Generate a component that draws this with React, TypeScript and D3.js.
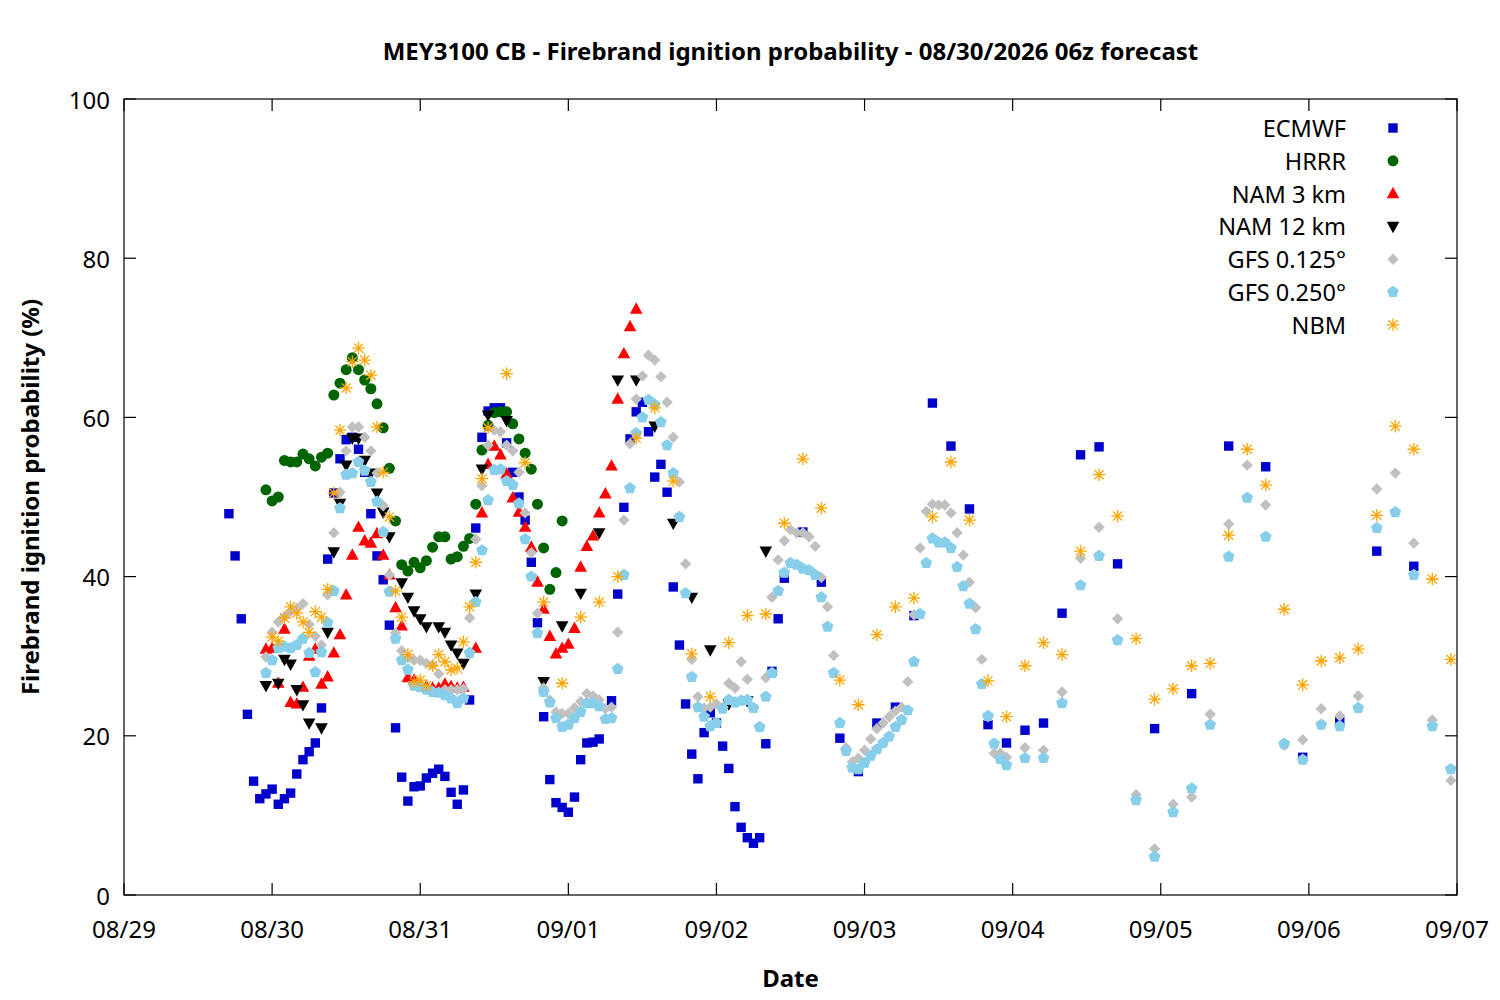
import React, { useEffect } from 'react'
import * as d3 from 'd3'

// Hours since 08/29 00z, value in %
const dayLabels = ['08/29', '08/30', '08/31', '09/01', '09/02', '09/03', '09/04', '09/05', '09/06', '09/07']
const yTicks = [0, 20, 40, 60, 80, 100]

const ecmwf: [number, number][] = [
  [17, 47.9], [18, 42.6], [19, 34.7], [20, 22.7], [21, 14.3], [22, 12.1], [23, 12.7], [24, 13.3], [25, 11.4],
  [26, 12.1], [27, 12.8], [28, 15.2], [29, 17.0], [30, 18.0], [31, 19.1], [32, 23.5], [33, 42.2], [34, 50.5],
  [35, 54.8], [36, 57.2], [37, 57.5], [38, 56.0], [39, 53.1], [40, 47.9], [41, 42.6], [42, 39.6], [43, 33.9],
  [44, 21.0], [45, 14.8], [46, 11.8], [47, 13.6], [48, 13.7], [49, 14.7], [50, 15.3], [51, 15.8], [52, 14.9],
  [53, 12.9], [54, 11.4], [55, 13.2], [56, 24.5], [57, 46.1], [58, 57.5], [59, 60.8], [60, 61.2], [61, 61.2],
  [62, 56.8], [63, 53.1], [64, 50.0], [65, 47.1], [66, 41.8], [67, 34.2], [68, 22.4], [69, 14.5], [70, 11.6],
  [71, 11.0], [72, 10.4], [73, 12.3], [74, 17.0], [75, 19.1], [76, 19.2], [77, 19.6], [79, 24.4], [80, 37.8],
  [81, 48.7], [82, 57.3], [83, 60.7], [84, 61.9], [85, 58.2], [86, 52.5], [87, 54.1], [88, 50.6], [89, 38.7],
  [90, 31.4], [91, 24.0], [92, 17.7], [93, 14.6], [94, 20.4], [95, 22.9], [96, 21.6], [97, 18.7], [98, 15.9],
  [99, 11.1], [100, 8.5], [101, 7.2], [102, 6.5], [103, 7.2], [104, 19.0], [105, 28.1], [106, 34.7], [107, 39.8],
  [110, 45.6], [113, 39.3], [116, 19.7], [119, 15.5], [122, 21.6], [125, 23.6], [128, 35.1], [131, 61.8],
  [134, 56.4], [137, 48.5], [140, 21.4], [143, 19.1], [146, 20.7], [149, 21.6], [152, 35.4], [155, 55.3],
  [158, 56.3], [161, 41.6], [167, 20.9], [173, 25.3], [179, 56.4], [185, 53.8], [191, 17.3], [197, 21.9],
  [203, 43.2], [209, 41.3],
]

const hrrr: [number, number][] = [
  [23, 50.9], [24, 49.5], [25, 50.0], [26, 54.6], [27, 54.4], [28, 54.4], [29, 55.4], [30, 54.8], [31, 53.9],
  [32, 55.0], [33, 55.5], [34, 62.8], [35, 64.3], [36, 66.0], [37, 67.5], [38, 66.0], [39, 64.7], [40, 63.6],
  [41, 61.7], [42, 58.7], [43, 53.6], [44, 47.0], [45, 41.5], [46, 40.7], [47, 41.8], [48, 41.1], [49, 42.0],
  [50, 43.7], [51, 45.0], [52, 45.0], [53, 42.2], [54, 42.5], [55, 43.8], [56, 44.8], [57, 49.1], [58, 55.9],
  [59, 59.0], [60, 60.6], [61, 60.7], [62, 60.7], [63, 59.2], [64, 57.3], [65, 55.5], [66, 53.5], [67, 49.1],
  [68, 43.6], [69, 38.4], [70, 40.5], [71, 47.0],
]

const nam3: [number, number][] = [
  [23, 30.9], [24, 31.0], [25, 26.6], [26, 33.4], [27, 24.2], [28, 24.0], [29, 26.1], [30, 30.0], [31, 30.9],
  [32, 26.5], [33, 27.4], [34, 30.4], [35, 32.7], [36, 37.7], [37, 42.7], [38, 46.2], [39, 44.5], [40, 44.2],
  [41, 45.4], [42, 42.7], [43, 40.2], [44, 36.1], [45, 33.8], [46, 27.3], [47, 27.0], [48, 26.5], [49, 26.2],
  [50, 26.0], [51, 26.0], [52, 26.5], [53, 26.2], [54, 26.0], [55, 26.1], [57, 31.0], [58, 48.0], [59, 54.1],
  [60, 56.4], [61, 55.3], [62, 52.9], [63, 49.9], [64, 48.1], [65, 46.2], [66, 43.7], [67, 39.3], [68, 35.9],
  [69, 32.5], [70, 30.3], [71, 31.0], [72, 31.5], [73, 33.5], [74, 41.2], [75, 43.8], [76, 45.1], [77, 48.0],
  [78, 50.4], [79, 53.9], [80, 62.3], [81, 68.0], [82, 71.4], [83, 73.6],
]

const nam12: [number, number][] = [
  [23, 26.3], [25, 26.6], [26, 29.6], [27, 29.0], [28, 25.8], [29, 23.9], [30, 21.6], [32, 21.0], [33, 33.0],
  [34, 43.1], [35, 49.2], [36, 54.0], [37, 57.4], [38, 57.4], [39, 54.6], [40, 53.0], [41, 50.5], [42, 48.1],
  [43, 45.0], [45, 39.2], [46, 37.4], [47, 35.7], [48, 34.7], [49, 33.7], [51, 33.7], [52, 33.0], [53, 31.4],
  [54, 30.4], [55, 29.1], [57, 37.8], [58, 53.5], [59, 60.3], [62, 59.6], [68, 26.8], [71, 33.8], [74, 37.9],
  [77, 45.5], [80, 64.7], [83, 64.7], [86, 58.9], [89, 46.7], [92, 37.4], [95, 30.8], [98, 24.0], [101, 24.4],
  [104, 43.2],
]

const gfs0125: [number, number][] = [
  [23, 29.9], [24, 33.0], [25, 34.3], [26, 35.0], [27, 35.6], [28, 36.0], [29, 36.6], [30, 34.0], [31, 32.5],
  [32, 31.4], [33, 37.7], [34, 45.5], [35, 50.6], [36, 55.8], [37, 58.8], [38, 58.8], [39, 57.5], [40, 55.8],
  [41, 53.0], [42, 48.9], [43, 40.2], [44, 32.9], [45, 30.7], [46, 29.8], [47, 29.5], [48, 29.5], [49, 29.1],
  [50, 28.9], [51, 27.8], [52, 25.8], [53, 25.8], [54, 25.8], [55, 25.9], [56, 34.8], [57, 44.7], [58, 51.4],
  [59, 56.5], [60, 58.4], [61, 58.2], [62, 56.5], [63, 55.8], [64, 53.1], [65, 48.0], [66, 43.0], [67, 35.4],
  [68, 26.0], [69, 24.5], [70, 23.0], [71, 22.8], [72, 22.8], [73, 23.5], [74, 24.3], [75, 25.3], [76, 25.0],
  [77, 24.5], [78, 23.4], [79, 23.6], [80, 33.0], [81, 47.1], [82, 56.7], [83, 62.3], [84, 65.2], [85, 67.8],
  [86, 67.2], [87, 65.1], [88, 61.9], [89, 57.5], [90, 51.9], [91, 41.6], [92, 29.6], [93, 24.9], [94, 23.5],
  [95, 23.6], [96, 24.0], [97, 23.6], [98, 26.6], [99, 26.0], [100, 29.3], [101, 27.1], [102, 23.6], [103, 21.1],
  [104, 27.3], [105, 37.4], [106, 42.1], [107, 44.5], [108, 45.9], [109, 45.5], [110, 45.5], [111, 45.0],
  [112, 43.8], [113, 39.9], [114, 36.2], [115, 30.1], [116, 21.6], [117, 18.5], [118, 16.7], [119, 17.2],
  [120, 18.2], [121, 19.6], [122, 20.9], [123, 21.6], [124, 22.4], [125, 23.1], [126, 23.6], [127, 26.8],
  [128, 35.2], [129, 43.6], [130, 48.2], [131, 49.1], [132, 49.0], [133, 49.0], [134, 48.0], [135, 45.5],
  [136, 42.7], [137, 39.3], [138, 36.1], [139, 29.6], [140, 22.4], [141, 17.8], [142, 17.8], [143, 17.3],
  [146, 18.5], [149, 18.2], [152, 25.5], [155, 42.3], [158, 46.2], [161, 34.7], [164, 12.6], [167, 5.8],
  [170, 11.4], [173, 12.3], [176, 22.7], [179, 46.6], [182, 54.0], [185, 49.0], [188, 18.8], [191, 19.5],
  [194, 23.4], [197, 22.5], [200, 25.0], [203, 51.0], [206, 53.0], [209, 44.2], [212, 22.0], [215, 14.4],
]

const gfs0250: [number, number][] = [
  [23, 27.9], [24, 29.5], [25, 31.0], [26, 31.2], [27, 31.0], [28, 31.4], [29, 32.2], [30, 30.4], [31, 28.0],
  [32, 30.5], [33, 34.2], [34, 38.2], [35, 48.6], [36, 52.8], [37, 53.0], [38, 54.4], [39, 53.3], [40, 51.9],
  [41, 49.4], [42, 45.6], [43, 38.1], [44, 32.2], [45, 29.5], [46, 28.3], [47, 26.3], [48, 26.1], [49, 25.8],
  [50, 25.5], [51, 25.4], [52, 25.1], [53, 24.7], [54, 24.1], [55, 24.7], [56, 30.4], [57, 36.8], [58, 43.3],
  [59, 49.6], [60, 53.4], [61, 53.5], [62, 52.0], [63, 51.5], [64, 49.2], [65, 44.7], [66, 40.0], [67, 32.9],
  [68, 25.5], [69, 24.2], [70, 22.2], [71, 21.1], [72, 21.4], [73, 22.2], [74, 23.0], [75, 24.1], [76, 24.1],
  [77, 23.7], [78, 22.1], [79, 22.2], [80, 28.4], [81, 40.2], [82, 51.1], [83, 58.0], [84, 60.0], [85, 62.2],
  [86, 61.6], [87, 59.4], [88, 56.5], [89, 53.0], [90, 47.5], [91, 37.9], [92, 27.4], [93, 23.6], [94, 22.4],
  [95, 21.2], [96, 21.6], [97, 23.4], [98, 24.5], [99, 24.2], [100, 24.4], [101, 24.5], [102, 23.5], [103, 21.1],
  [104, 24.9], [105, 27.9], [106, 38.2], [107, 40.5], [108, 41.7], [109, 41.5], [110, 41.0], [111, 40.8],
  [112, 40.2], [113, 37.4], [114, 33.7], [115, 27.9], [116, 21.6], [117, 18.1], [118, 16.0], [119, 15.8],
  [120, 16.6], [121, 17.5], [122, 18.3], [123, 19.1], [124, 19.9], [125, 21.1], [126, 22.0], [127, 23.2],
  [128, 29.3], [129, 35.3], [130, 41.7], [131, 44.8], [132, 44.3], [133, 44.3], [134, 43.6], [135, 41.2],
  [136, 38.8], [137, 36.6], [138, 33.4], [139, 26.5], [140, 22.5], [141, 19.0], [142, 17.1], [143, 16.3],
  [146, 17.2], [149, 17.2], [152, 24.1], [155, 38.9], [158, 42.6], [161, 32.0], [164, 11.9], [167, 4.8],
  [170, 10.4], [173, 13.4], [176, 21.4], [179, 42.5], [182, 49.9], [185, 45.0], [188, 19.0], [191, 17.0],
  [194, 21.4], [197, 21.2], [200, 23.5], [203, 46.1], [206, 48.1], [209, 40.2], [212, 21.2], [215, 15.8],
]

const nbm: [number, number][] = [
  [24, 32.4], [25, 31.9], [26, 34.8], [27, 36.2], [28, 35.4], [29, 34.3], [30, 33.0], [31, 35.6], [32, 34.9],
  [33, 38.4], [34, 50.5], [35, 58.4], [36, 63.7], [37, 67.0], [38, 68.7], [39, 67.2], [40, 65.3], [41, 58.8],
  [42, 53.1], [43, 47.5], [44, 38.2], [45, 34.9], [46, 30.2], [47, 26.8], [48, 27.0], [49, 26.3], [50, 28.8],
  [51, 30.2], [52, 29.3], [53, 28.3], [54, 28.5], [55, 31.8], [56, 36.2], [57, 41.8], [58, 52.3], [59, 58.7],
  [62, 65.5], [65, 54.3], [68, 36.8], [71, 26.6], [74, 34.9], [77, 36.8], [80, 40.0], [83, 57.4], [86, 61.2],
  [89, 52.0], [92, 30.3], [95, 24.9], [98, 31.7], [101, 35.1], [104, 35.3], [107, 46.7], [110, 54.8], [113, 48.6],
  [116, 27.0], [119, 23.9], [122, 32.7], [125, 36.2], [128, 37.3], [131, 47.5], [134, 54.4], [137, 47.1],
  [140, 26.9], [143, 22.4], [146, 28.8], [149, 31.7], [152, 30.2], [155, 43.2], [158, 52.8], [161, 47.6],
  [164, 32.2], [167, 24.6], [170, 25.9], [173, 28.8], [176, 29.1], [179, 45.2], [182, 56.0], [185, 51.5],
  [188, 35.9], [191, 26.4], [194, 29.4], [197, 29.8], [200, 30.9], [203, 47.7], [206, 58.9], [209, 56.0],
  [212, 39.7], [215, 29.6],
]

type Shape = 'square' | 'circle' | 'triUp' | 'triDown' | 'diamond' | 'pentagon' | 'star'

const series: { name: string; data: [number, number][]; color: string; shape: Shape }[] = [
  { name: 'ECMWF', data: ecmwf, color: '#0000CC', shape: 'square' },
  { name: 'HRRR', data: hrrr, color: '#006400', shape: 'circle' },
  { name: 'NAM 3 km', data: nam3, color: '#FF0000', shape: 'triUp' },
  { name: 'NAM 12 km', data: nam12, color: '#000000', shape: 'triDown' },
  { name: 'GFS 0.125°', data: gfs0125, color: '#C0C0C0', shape: 'diamond' },
  { name: 'GFS 0.250°', data: gfs0250, color: '#87CEEB', shape: 'pentagon' },
  { name: 'NBM', data: nbm, color: '#FFA500', shape: 'star' },
]

const FONT = '"Noto Sans", "Open Sans", sans-serif'

function Marker({ shape, color, cx, cy }: { shape: Shape; color: string; cx: number; cy: number }) {
  switch (shape) {
    case 'square':
      return <rect x={cx - 4.7} y={cy - 4.7} width={9.4} height={9.4} fill={color} />
    case 'circle':
      return <circle cx={cx} cy={cy} r={5.5} fill={color} />
    case 'triUp':
      return <path d={`M${cx},${cy - 6.8}L${cx + 6.3},${cy + 4.6}L${cx - 6.3},${cy + 4.6}Z`} fill={color} />
    case 'triDown':
      return <path d={`M${cx},${cy + 6.8}L${cx + 6.3},${cy - 4.6}L${cx - 6.3},${cy - 4.6}Z`} fill={color} />
    case 'diamond':
      return <path d={`M${cx},${cy - 5.7}L${cx + 5.7},${cy}L${cx},${cy + 5.7}L${cx - 5.7},${cy}Z`} fill={color} />
    case 'pentagon': {
      const pts = d3.range(5).map(i => {
        const a = -Math.PI / 2 + (i * 2 * Math.PI) / 5
        return `${cx + 6.2 * Math.cos(a)},${cy + 6.2 * Math.sin(a)}`
      })
      return <polygon points={pts.join(' ')} fill={color} />
    }
    case 'star': {
      const r = 6.3
      const d = r * 0.72
      return (
        <path
          d={`M${cx - r},${cy}H${cx + r}M${cx},${cy - r}V${cy + r}M${cx - d},${cy - d}L${cx + d},${cy + d}M${cx - d},${cy + d}L${cx + d},${cy - d}`}
          stroke={color}
          strokeWidth={1.3}
          fill="none"
        />
      )
    }
  }
}

export default function App() {
  useEffect(() => {
    document.body.style.margin = '0'
  }, [])

  const width = 1500
  const height = 1000
  const margin = { top: 99, right: 43, bottom: 105, left: 124 }
  const x0 = margin.left
  const x1 = width - margin.right
  const y0 = height - margin.bottom
  const y1 = margin.top

  const x = d3.scaleLinear().domain([0, 24 * (dayLabels.length - 1)]).range([x0, x1])
  const y = d3.scaleLinear().domain([0, 100]).range([y0, y1])
  const tickLen = 12

  return (
    <svg width={width} height={height} style={{ display: 'block', background: '#fff', fontFamily: FONT }}>
      {/* points */}
      {series.map(s => (
        <g key={s.name}>
          {s.data.map(([h, v], i) => (
            <Marker key={i} shape={s.shape} color={s.color} cx={x(h)} cy={y(v)} />
          ))}
        </g>
      ))}

      {/* frame */}
      <rect x={x0} y={y1} width={x1 - x0} height={y0 - y1} fill="none" stroke="#000" strokeWidth={1.2} />

      {/* y ticks */}
      {yTicks.map(t => (
        <g key={t}>
          <line x1={x0} x2={x0 + tickLen} y1={y(t)} y2={y(t)} stroke="#000" strokeWidth={1.2} />
          <line x1={x1} x2={x1 - tickLen} y1={y(t)} y2={y(t)} stroke="#000" strokeWidth={1.2} />
          <text x={x0 - 14} y={y(t)} textAnchor="end" dominantBaseline="central" fontSize={24} fill="#000">
            {t}
          </text>
        </g>
      ))}

      {/* x ticks */}
      {dayLabels.map((lab, i) => (
        <g key={lab}>
          <line x1={x(i * 24)} x2={x(i * 24)} y1={y0} y2={y0 - tickLen} stroke="#000" strokeWidth={1.2} />
          <line x1={x(i * 24)} x2={x(i * 24)} y1={y1} y2={y1 + tickLen} stroke="#000" strokeWidth={1.2} />
          <text x={x(i * 24)} y={y0 + 33} textAnchor="middle" dominantBaseline="central" fontSize={24} fill="#000">
            {lab}
          </text>
        </g>
      ))}

      {/* title and axis labels */}
      <text x={(x0 + x1) / 2} y={50} textAnchor="middle" dominantBaseline="central" fontSize={24} fontWeight="bold">
        MEY3100 CB - Firebrand ignition probability - 08/30/2026 06z forecast
      </text>
      <text x={(x0 + x1) / 2} y={977} textAnchor="middle" dominantBaseline="central" fontSize={24} fontWeight="bold">
        Date
      </text>
      <text
        transform={`translate(29,${(y0 + y1) / 2}) rotate(-90)`}
        textAnchor="middle"
        dominantBaseline="central"
        fontSize={24}
        fontWeight="bold"
      >
        Firebrand ignition probability (%)
      </text>

      {/* legend */}
      {series.map((s, i) => (
        <g key={s.name} transform={`translate(0,${128 + i * 32.8})`}>
          <text x={1346} y={0} textAnchor="end" dominantBaseline="central" fontSize={23.5}>
            {s.name}
          </text>
          <Marker shape={s.shape} color={s.color} cx={1393} cy={0} />
        </g>
      ))}
    </svg>
  )
}
